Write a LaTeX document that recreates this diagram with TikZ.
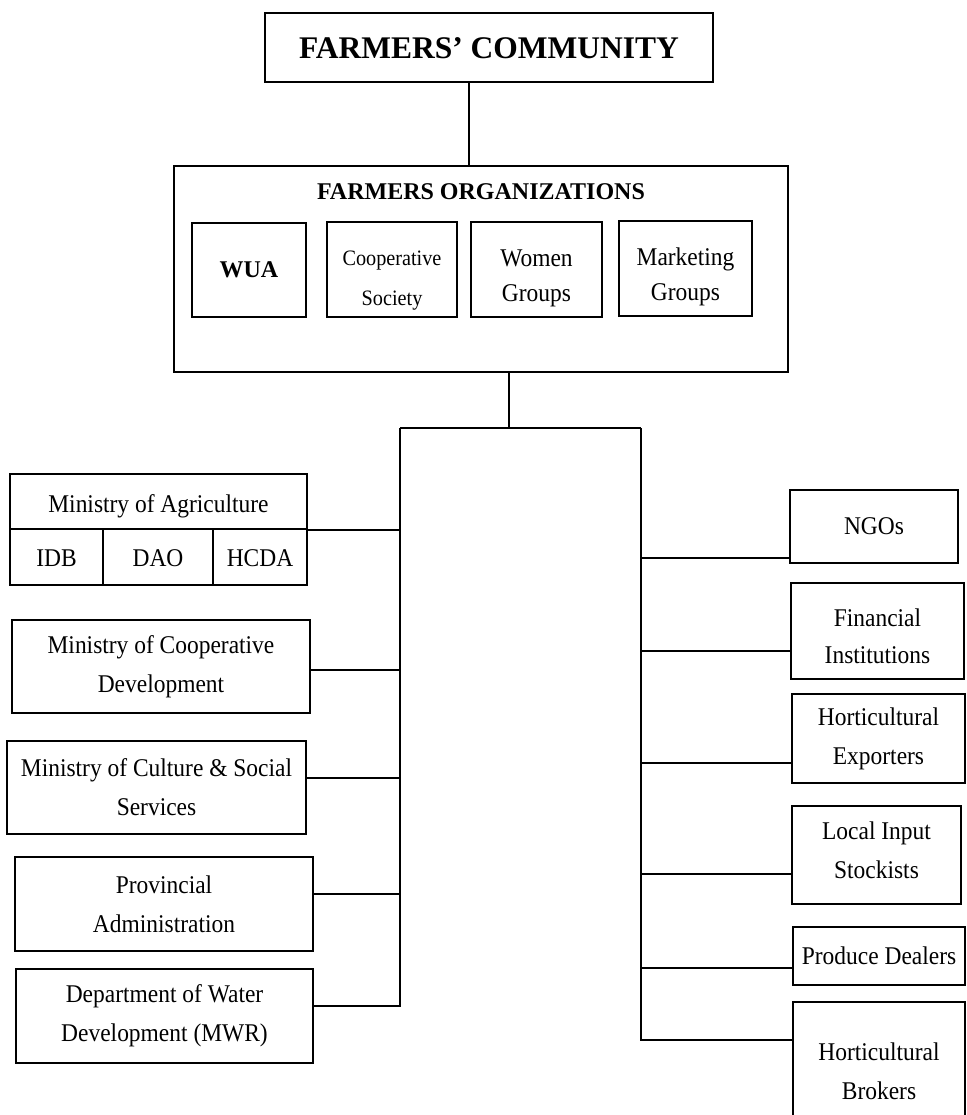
\documentclass[tikz,border=0pt]{standalone}
\usepackage{fontspec}
\setmainfont{Liberation Serif}
\newfontfamily\condserif{Liberation Serif}[FakeStretch=0.92]
\newcommand\regtxt{\condserif\fontsize{25.5}{39}\selectfont}
\newcommand\smalltxt{\condserif\fontsize{22}{40}\selectfont}
\newcommand\grptxt{\condserif\fontsize{25.5}{35}\selectfont}
\newcommand\fintxt{\condserif\fontsize{25.5}{37}\selectfont}
% lower a (possibly multi-line) text without changing its reported size
\newcommand\lowtext[2]{\raisebox{-#1}[\height][\depth]{\begin{tabular}{@{}c@{}}#2\end{tabular}}}
\begin{document}
\begin{tikzpicture}[x=1pt,y=-1pt,
  box/.style={draw,line width=1.8pt,inner sep=0pt,align=center,font=\regtxt},
  conn/.style={line width=1.8pt},
  lbl/.style={inner sep=0pt,align=center,font=\regtxt}]
\useasboundingbox (0,0) rectangle (966,1115);

% top
\node[box,minimum width=448pt,minimum height=69pt,font=\fontsize{31.5}{36}\selectfont\bfseries] (comm) at (489,47.5) {\lowtext{4pt}{FARMERS’ COMMUNITY}};
\node[box,minimum width=614pt,minimum height=206pt] (org) at (481,269) {};
\node[lbl,font=\fontsize{24}{30}\selectfont\bfseries] (orgt) at (481,192) {FARMERS ORGANIZATIONS};
\node[box,minimum width=114pt,minimum height=94pt,font=\fontsize{24}{30}\selectfont\bfseries] (wua) at (249,270) {WUA};
\node[box,minimum width=130pt,minimum height=95pt,font=\smalltxt] (coop) at (392,269.5) {\lowtext{8pt}{Cooperative\\Society}};
\node[box,minimum width=131pt,minimum height=95pt,font=\grptxt] (women) at (536.5,269.5) {\lowtext{7.5pt}{Women\\Groups}};
\node[box,minimum width=133pt,minimum height=95pt,font=\grptxt] (mkt) at (685.5,268.5) {\lowtext{8pt}{Marketing\\Groups}};

% bus coordinates
\coordinate (cx) at (469,0);
\coordinate (jn) at (509,428);
\coordinate (lt) at (400,428);
\coordinate (rt) at (641,428);

% left side
\node[box,minimum width=297pt,minimum height=55pt] (moa) at (158.5,501.5) {\lowtext{3pt}{Ministry of Agriculture}};
\node[box,minimum width=93pt,minimum height=56pt] (idb) at (56.5,557) {\lowtext{2pt}{IDB}};
\node[box,minimum width=110pt,minimum height=56pt] (dao) at (158,557) {\lowtext{2pt}{DAO}};
\node[box,minimum width=94pt,minimum height=56pt] (hcda) at (260,557) {\lowtext{2pt}{HCDA}};
\node[box,minimum width=298pt,minimum height=93pt] (mcd) at (161,666.5) {Ministry of Cooperative\\Development};
\node[box,minimum width=299pt,minimum height=93pt] (mcs) at (156.5,787.5) {Ministry of Culture \& Social\\Services};
\node[box,minimum width=298pt,minimum height=94pt] (pa) at (164,904) {Provincial\\Administration};
\node[box,minimum width=297pt,minimum height=94pt] (dwd) at (164.5,1016) {Department of Water\\Development (MWR)};

% right side
\node[box,minimum width=168pt,minimum height=73pt] (ngo) at (874,526.5) {NGOs};
\node[box,minimum width=173pt,minimum height=96pt,font=\fintxt] (fin) at (877.5,631) {\lowtext{6.5pt}{Financial\\Institutions}};
\node[box,minimum width=173pt,minimum height=89pt] (hexp) at (878.5,738.5) {Horticultural\\Exporters};
\node[box,minimum width=169pt,minimum height=98pt] (lis) at (876.5,855) {\lowtext{-4pt}{Local Input\\Stockists}};
\node[box,minimum width=172pt,minimum height=58pt] (pd) at (879,956) {Produce Dealers};
\node[box,minimum width=172pt,minimum height=138pt] (hb) at (879,1071) {Horticultural\\Brokers};

% connectors
\draw[conn] (comm.south -| cx) -- (org.north -| cx);
\draw[conn] (org.south -| jn) -- (jn);
\draw[conn] (lt) -- (rt);
\draw[conn] (moa.south east) -| (lt);
\draw[conn] ([yshift=-3.5pt]mcd.east) -- ([yshift=-3.5pt]mcd.east -| lt);
\draw[conn] ([yshift=9.5pt]mcs.east) -- ([yshift=9.5pt]mcs.east -| lt);
\draw[conn] ([yshift=10pt]pa.east) -- ([yshift=10pt]pa.east -| lt);
\draw[conn] (lt) |- ([yshift=10pt]dwd.east);
\draw[conn] ([yshift=-31.5pt]ngo.west) -- ([yshift=-31.5pt]ngo.west -| rt);
\draw[conn] ([yshift=-20pt]fin.west) -- ([yshift=-20pt]fin.west -| rt);
\draw[conn] ([yshift=-24.5pt]hexp.west) -- ([yshift=-24.5pt]hexp.west -| rt);
\draw[conn] ([yshift=-19pt]lis.west) -- ([yshift=-19pt]lis.west -| rt);
\draw[conn] ([yshift=-12pt]pd.west) -- ([yshift=-12pt]pd.west -| rt);
\draw[conn] (rt) |- ([yshift=-39pt]hb.north west);
\end{tikzpicture}
\end{document}
